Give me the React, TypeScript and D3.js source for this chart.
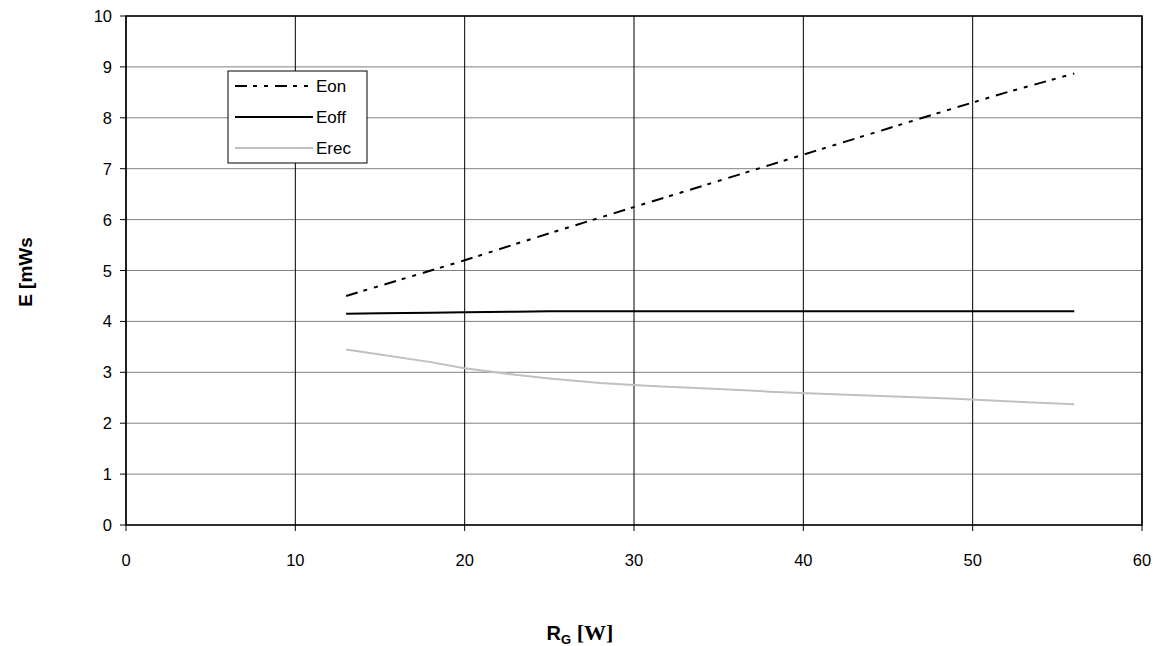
import React from "react";
import * as d3 from "d3";

const rg = [13, 15, 18, 20, 23, 25, 28, 31, 35, 38, 41, 45, 49, 52, 56];
const eon = [4.5, 4.7, 5.0, 5.2, 5.52, 5.73, 6.04, 6.35, 6.76, 7.07, 7.38, 7.79, 8.2, 8.5, 8.87];
const eoff = [4.15, 4.16, 4.17, 4.18, 4.19, 4.2, 4.2, 4.2, 4.2, 4.2, 4.2, 4.2, 4.2, 4.2, 4.2];
const erec = [3.45, 3.35, 3.2, 3.08, 2.95, 2.88, 2.79, 2.73, 2.67, 2.62, 2.58, 2.53, 2.48, 2.43, 2.37];
const xTicks = [0, 10, 20, 30, 40, 50, 60];
const yTicks = [0, 1, 2, 3, 4, 5, 6, 7, 8, 9, 10];

const seriesList = [
  { name: "Eon", values: eon, color: "#000", width: 2, dash: "12,6,4,7,4,7" },
  { name: "Eoff", values: eoff, color: "#000", width: 2, dash: "" },
  { name: "Erec", values: erec, color: "#c0c0c0", width: 2, dash: "" },
];

export default function App() {
  const W = 1160, H = 646;
  const left = 126, right = 1142, top = 16, bottom = 525;
  const x = d3.scaleLinear().domain([0, 60]).range([left, right]);
  const y = d3.scaleLinear().domain([0, 10]).range([bottom, top]);
  const font = "'Liberation Sans', Arial, sans-serif";
  const line = (vals: number[]) =>
    d3.line<number>().x((_, i) => x(rg[i])).y((d) => y(d))(vals) || "";

  return (
    <svg width={W} height={H} style={{ position: "absolute", left: 0, top: 0, background: "#fff" }}>
      {yTicks.map((t) => (
        <g key={"y" + t}>
          <line x1={left} x2={right} y1={y(t)} y2={y(t)} stroke="#808080" strokeWidth={1} />
          <line x1={left - 6} x2={left} y1={y(t)} y2={y(t)} stroke="#000" strokeWidth={1} />
          <text x={112} y={y(t) + 6} textAnchor="end" fontFamily={font} fontSize={16.5}>{t}</text>
        </g>
      ))}
      {xTicks.map((t) => (
        <g key={"x" + t}>
          <line x1={x(t)} x2={x(t)} y1={top} y2={bottom} stroke="#000" strokeWidth={1} />
          <line x1={x(t)} x2={x(t)} y1={bottom} y2={bottom + 6} stroke="#000" strokeWidth={1} />
          <text x={x(t)} y={566} textAnchor="middle" fontFamily={font} fontSize={16.5}>{t}</text>
        </g>
      ))}
      <rect x={left} y={top} width={right - left} height={bottom - top} fill="none" stroke="#000" strokeWidth={1.5} />
      {seriesList.map((s) => (
        <path key={s.name} d={line(s.values)} fill="none" stroke={s.color} strokeWidth={s.width}
          strokeDasharray={s.dash || undefined} />
      ))}
      <g>
        <rect x={228} y={71} width={139} height={92} fill="#fff" stroke="#000" strokeWidth={1} />
        {seriesList.map((s, i) => (
          <g key={"l" + s.name}>
            <line x1={235} x2={313} y1={86 + i * 31} y2={86 + i * 31} stroke={s.color} strokeWidth={s.width}
              strokeDasharray={s.dash || undefined} />
            <text x={316} y={86 + i * 31 + 6} fontFamily={font} fontSize={17}>{s.name}</text>
          </g>
        ))}
      </g>
      <text transform="translate(32,272) rotate(-90)" textAnchor="middle" fontFamily={font} fontSize={19} fontWeight="bold">E [mWs</text>
      <text x={580} y={640} textAnchor="middle" fontFamily={font} fontSize={20} fontWeight="bold">
        R<tspan fontSize={13} dy={4}>G</tspan><tspan dy={-4}> </tspan><tspan fontFamily="'Liberation Serif', serif" fontWeight="bold" fontSize={22}>[W]</tspan>
      </text>
    </svg>
  );
}
